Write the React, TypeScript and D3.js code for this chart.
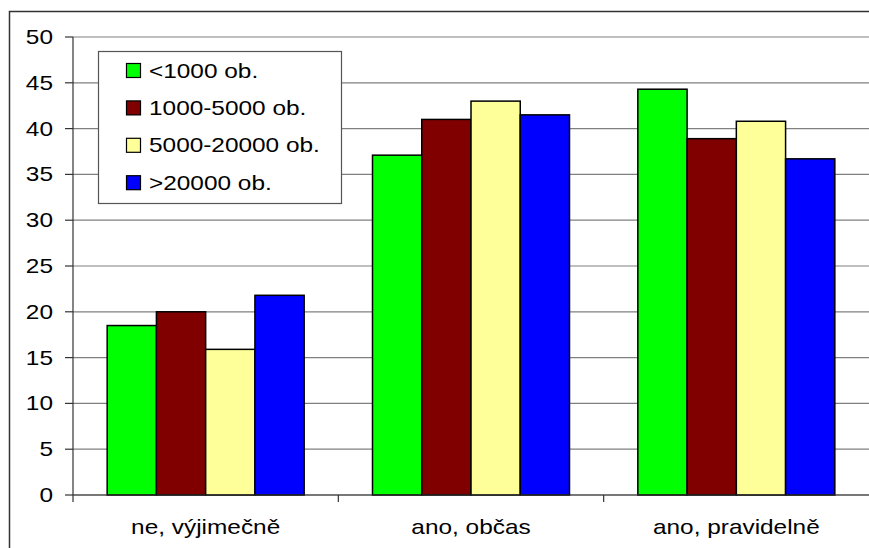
import React from "react";
import * as d3 from "d3";

const categories = ["ne, výjimečně", "ano, občas", "ano, pravidelně"];
const seriesNames = ["<1000 ob.", "1000-5000 ob.", "5000-20000 ob.", ">20000 ob."];
const seriesColors = ["#00FF00", "#800000", "#FFFF99", "#0000FF"];
const s1 = [18.5, 37.1, 44.3];
const s2 = [20.0, 41.0, 38.9];
const s3 = [15.9, 43.0, 40.8];
const s4 = [21.8, 41.5, 36.7];
const seriesValues = [s1, s2, s3, s4];
const yTicks = [0, 5, 10, 15, 20, 25, 30, 35, 40, 45, 50];

const W = 869;
const H = 548;
const FONT = "Liberation Sans, Arial, sans-serif";
const SX = 1.22;

export default function App() {
  const x0 = d3.scaleBand<string>().domain(categories).range([73, 869]).paddingInner(0).paddingOuter(0);
  const bw = x0.bandwidth();
  const pad = (bw - 197) / 2;
  const x1 = d3.scaleBand<number>().domain(d3.range(seriesNames.length)).range([pad, bw - pad]).padding(0);
  const y = d3.scaleLinear().domain([0, 50]).range([495, 37]);

  return (
    <svg width={W} height={H} style={{ position: "absolute", left: 0, top: 0, background: "#fff" }}>
      <rect x={0} y={0} width={W} height={H} fill="#fff" />
      {/* outer border */}
      <rect x={9.5} y={11.5} width={W + 20} height={H + 20} fill="none" stroke="#333" strokeWidth={1.5} />
      {/* gridlines */}
      {yTicks.map((t) => (
        <line key={"g" + t} x1={73} x2={W} y1={y(t)} y2={y(t)} stroke="#808080" strokeWidth={1.2} />
      ))}
      {/* y ticks and labels */}
      {yTicks.map((t) => (
        <g key={"yt" + t}>
          <line x1={65} x2={73} y1={y(t)} y2={y(t)} stroke="#333" strokeWidth={1.2} />
          <text
            transform={`translate(53,${y(t) + 7}) scale(${SX},1)`}
            textAnchor="end"
            fontFamily={FONT}
            fontSize={20}
            fill="#000"
          >
            {t}
          </text>
        </g>
      ))}
      {/* bars */}
      {categories.map((c, ci) => (
        <g key={c} transform={`translate(${x0(c)},0)`}>
          {seriesValues.map((vals, si) => (
            <rect
              key={si}
              x={x1(si)}
              y={y(vals[ci])}
              width={x1.bandwidth()}
              height={y(0) - y(vals[ci])}
              fill={seriesColors[si]}
              stroke="#000"
              strokeWidth={1.5}
            />
          ))}
        </g>
      ))}
      {/* axes */}
      <line x1={73} x2={73} y1={37} y2={495} stroke="#333" strokeWidth={1.2} />
      <line x1={73} x2={W} y1={495} y2={495} stroke="#333" strokeWidth={1.2} />
      {categories.map((c) => (
        <line key={"xt" + c} x1={x0(c)} x2={x0(c)} y1={495} y2={502} stroke="#333" strokeWidth={1.2} />
      ))}
      {categories.map((c) => (
        <text
          key={"xl" + c}
          transform={`translate(${(x0(c) as number) + bw / 2},534) scale(${SX},1)`}
          textAnchor="middle"
          fontFamily={FONT}
          fontSize={20}
          fill="#000"
        >
          {c}
        </text>
      ))}
      {/* legend */}
      <rect x={98.5} y={51.5} width={243} height={152} fill="#fff" stroke="#555" strokeWidth={1.2} />
      {seriesNames.map((n, i) => (
        <g key={n} transform={`translate(0,${i * 37.4})`}>
          <rect x={126.5} y={63.5} width={14} height={14} fill={seriesColors[i]} stroke="#000" strokeWidth={1.2} />
          <text
            transform={`translate(149,77.5) scale(${SX},1)`}
            fontFamily={FONT}
            fontSize={20}
            fill="#000"
          >
            {n}
          </text>
        </g>
      ))}
    </svg>
  );
}
